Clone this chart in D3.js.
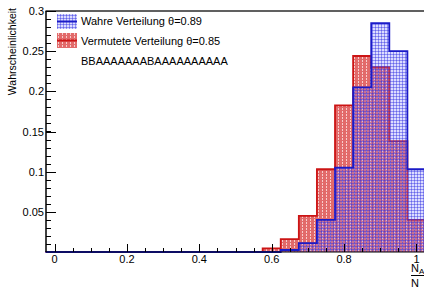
<!DOCTYPE html>
<html>
<head>
<meta charset="utf-8">
<script src="https://cdn.jsdelivr.net/npm/d3@7"></script>
<style>
  body { margin: 0; background: #fff; }
  svg { display: block; font-family: "Liberation Sans", Arial, sans-serif; }
</style>
</head>
<body>
<svg id="chart" width="424" height="288"></svg>
<script>
// bin centres of the two histograms (width 0.05)
const binCenters = [0, 0.05, 0.1, 0.15, 0.2, 0.25, 0.3, 0.35, 0.4, 0.45, 0.5,
  0.55, 0.6, 0.65, 0.7, 0.75, 0.8, 0.85, 0.9, 0.95, 1.0];
const binWidth = 0.05;
const wahre = [0, 0, 0, 0, 0, 0, 0, 0, 0, 0, 0,
  0, 0, 0.0025, 0.011, 0.04, 0.105, 0.205, 0.285, 0.25, 0.103];
const vermutet = [0, 0, 0, 0, 0, 0, 0, 0, 0, 0, 0,
  0, 0.0046, 0.016, 0.045, 0.103, 0.1825, 0.244, 0.23, 0.138, 0.04];
const xTicks = [0, 0.2, 0.4, 0.6, 0.8, 1];
const yTicks = [0.05, 0.1, 0.15, 0.2, 0.25, 0.3];
const legendLabels = ['Wahre Verteilung \u03b8=0.89', 'Vermutete Verteilung \u03b8=0.85', 'BBAAAAAAABAAAAAAAAAA'];

const svg = d3.select('#chart');
const x = d3.scaleLinear().domain([-0.025, 1.025]).range([45.5, 425.5]);
const y = d3.scaleLinear().domain([0, 0.3]).range([252, 11]);

// fill patterns
const defs = svg.append('defs');
const redPat = defs.append('pattern').attr('id', 'redFill')
  .attr('patternUnits', 'userSpaceOnUse').attr('width', 4).attr('height', 3);
redPat.append('rect').attr('width', 4).attr('height', 3).attr('fill', '#e26a6a');
redPat.append('rect').attr('x', 2).attr('width', 1).attr('height', 2).attr('fill', '#f8cccc');

const bluePat = defs.append('pattern').attr('id', 'blueFill')
  .attr('patternUnits', 'userSpaceOnUse').attr('width', 3).attr('height', 3);
bluePat.append('rect').attr('width', 3).attr('height', 3).attr('fill', 'rgba(130,130,255,0.28)');
bluePat.append('rect').attr('width', 3).attr('height', 1).attr('fill', 'rgba(40,40,225,0.42)');
bluePat.append('rect').attr('width', 1).attr('height', 3).attr('fill', 'rgba(40,40,225,0.42)');

const stepPoints = (values) => {
  const pts = [[binCenters[0] - binWidth / 2, 0]];
  values.forEach((v, i) => {
    pts.push([binCenters[i] - binWidth / 2, v]);
    pts.push([binCenters[i] + binWidth / 2, v]);
  });
  pts.push([binCenters[binCenters.length - 1] + binWidth / 2, 0]);
  return pts;
};

const area = d3.area().x((d) => x(d[0])).y0(y(0)).y1((d) => y(d[1]));
const line = d3.line().x((d) => x(d[0])).y((d) => y(d[1]));

const drawHist = (values, fill, stroke) => {
  const pts = stepPoints(values);
  svg.append('path').attr('d', area(pts)).attr('fill', fill);
  svg.append('path').attr('d', line(pts)).attr('fill', 'none')
    .attr('stroke', stroke).attr('stroke-width', 1.8);
};

// axes frame
svg.append('line').attr('x1', 45.5).attr('x2', 424).attr('y1', 11).attr('y2', 11)
  .attr('stroke', '#606060').attr('stroke-width', 2);

drawHist(vermutet, 'url(#redFill)', '#cc1414');
drawHist(wahre, 'url(#blueFill)', '#1a1ac8');

// y axis
svg.append('line').attr('x1', 46).attr('x2', 46).attr('y1', 11).attr('y2', 252)
  .attr('stroke', '#000').attr('stroke-width', 1.5);
const yMinor = d3.range(0.01, 0.3, 0.01);
svg.append('g').selectAll('line').data(yMinor).join('line')
  .attr('x1', 46).attr('x2', 51).attr('y1', (d) => Math.round(y(d)) + 0.5).attr('y2', (d) => Math.round(y(d)) + 0.5)
  .attr('stroke', '#000');
svg.append('g').selectAll('line').data(yTicks).join('line')
  .attr('x1', 46).attr('x2', 56).attr('y1', (d) => Math.round(y(d)) + 0.5).attr('y2', (d) => Math.round(y(d)) + 0.5)
  .attr('stroke', '#000');
svg.append('g').selectAll('text').data(yTicks).join('text')
  .attr('x', 44).attr('y', (d) => y(d) + 4)
  .attr('text-anchor', 'end').attr('font-size', 11).attr('fill', '#000')
  .text((d) => d3.format('~g')(d));
svg.append('text')
  .attr('transform', 'translate(16,8) rotate(-90)')
  .attr('text-anchor', 'end').attr('font-size', 10.5).text('Wahrscheinlichkeit');

// x axis
svg.append('line').attr('x1', 46).attr('x2', 424).attr('y1', 252).attr('y2', 252)
  .attr('stroke', '#000').attr('stroke-width', 1);
const xMinor = d3.range(0, 1.0001, 0.05);
svg.append('g').selectAll('line').data(xMinor).join('line')
  .attr('x1', (d) => Math.round(x(d)) + 0.5).attr('x2', (d) => Math.round(x(d)) + 0.5)
  .attr('y1', 252).attr('y2', 248).attr('stroke', '#000');
svg.append('g').selectAll('line').data(xTicks).join('line')
  .attr('x1', (d) => Math.round(x(d)) + 0.5).attr('x2', (d) => Math.round(x(d)) + 0.5)
  .attr('y1', 252).attr('y2', 244).attr('stroke', '#000');
svg.append('g').selectAll('text').data(xTicks).join('text')
  .attr('x', (d) => x(d)).attr('y', 263)
  .attr('text-anchor', 'middle').attr('font-size', 11)
  .text((d) => d3.format('~g')(d));

// x title N_A / N
const xt = svg.append('g').attr('transform', 'translate(411,0)');
xt.append('text').attr('x', 0).attr('y', 272).attr('font-size', 11).text('N');
xt.append('text').attr('x', 8).attr('y', 274).attr('font-size', 8).text('A');
xt.append('line').attr('x1', 0).attr('x2', 16).attr('y1', 275.5).attr('y2', 275.5)
  .attr('stroke', '#000').attr('stroke-width', 1);
xt.append('text').attr('x', 0).attr('y', 287).attr('font-size', 11).text('N');

// legend
const legend = svg.append('g');
const legendStyles = [
  { fill: 'url(#blueFill)', stroke: '#1a1ac8', y: 14 },
  { fill: 'url(#redFill)', stroke: '#cc1414', y: 33 },
];
legendStyles.forEach((s) => {
  legend.append('rect').attr('x', 57).attr('y', s.y).attr('width', 20).attr('height', 15)
    .attr('fill', s.fill);
  legend.append('line').attr('x1', 57).attr('x2', 77).attr('y1', s.y + 7.5).attr('y2', s.y + 7.5)
    .attr('stroke', s.stroke).attr('stroke-width', 2);
});
legend.selectAll('text').data(legendLabels).join('text')
  .attr('x', 81).attr('y', (d, i) => 25 + i * 20)
  .attr('font-size', 11).text((d) => d);
</script>
</body>
</html>
